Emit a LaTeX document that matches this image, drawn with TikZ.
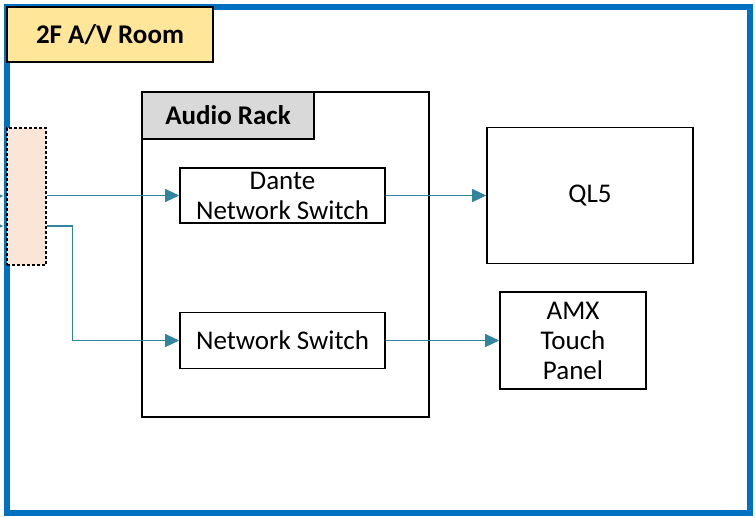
\documentclass[tikz,border=0pt]{standalone}
\usepackage{fontspec}
\setmainfont{Carlito}
\usetikzlibrary{arrows.meta}

\definecolor{roomblue}{RGB}{0,112,192}
\definecolor{tagyellow}{RGB}{255,230,153}
\definecolor{rackgray}{RGB}{217,217,217}
\definecolor{patchpeach}{RGB}{251,229,214}
\definecolor{linkteal}{RGB}{49,133,156}

\tikzstyle{planfig}=[x=1pt,y=-1pt]
\tikzstyle{box}=[draw=black,line width=1.6pt,inner sep=0pt,align=center,font=\fontsize{27}{30}\selectfont]
\tikzstyle{tag}=[box,font=\fontsize{27}{30}\selectfont\bfseries]
\tikzstyle{link}=[draw=linkteal,line width=1.1pt,-{Triangle[length=14pt,width=13pt]}]

\begin{document}
\begin{tikzpicture}[style=planfig]
\useasboundingbox (0,0) rectangle (755,517);

\draw[roomblue,line width=6.5pt] (7,7) rectangle (750,513);
\node[tag,fill=tagyellow,minimum width=206pt,minimum height=55pt] (room) at (110,34.5) {2F A/V Room};

\node[box,fill=patchpeach,dashed,dash pattern=on 3pt off 2pt,line width=1.5pt,minimum width=39pt,minimum height=137pt] (patch) at (26.5,196.5) {};
\coordinate (in1) at (-20,196);
\coordinate (in2) at (-20,226);
\draw[link] (in1) -- ([xshift=-3pt]patch.west |- in1);
\draw[link] (in2) -- ([xshift=-3pt]patch.west |- in2);

\node[box,minimum width=287pt,minimum height=325pt] (rack) at (285.5,254.5) {};
\node[tag,fill=rackgray,minimum width=172pt,minimum height=47pt] (racklabel) at (228,115.5) {Audio Rack};

\node[box,minimum width=205pt,minimum height=55pt] (dante) at (282.5,195.5) {Dante\\Network Switch};
\node[box,minimum width=205pt,minimum height=56pt] (netsw) at (282.5,340.5) {Network Switch};
\node[box,minimum width=206pt,minimum height=136pt] (ql5) at (590,195.5) {QL5};
\node[box,minimum width=146pt,minimum height=97pt] (amx) at (573,340.5) {AMX\\Touch\\Panel};

\draw[link] (patch.east |- dante.west) -- (dante.west);
\draw[link] (patch.east |- in2) -- ++(26,0) |- (netsw.west);
\draw[link] (dante.east) -- (ql5.west);
\draw[link] (netsw.east) -- (amx.west);
\end{tikzpicture}
\end{document}
